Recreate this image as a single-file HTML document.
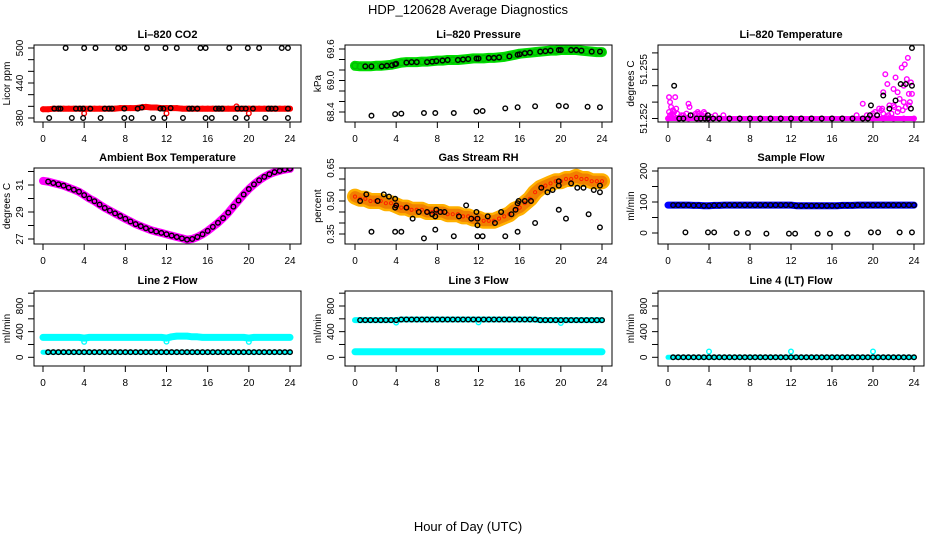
<!DOCTYPE html>
<html><head><meta charset="utf-8">
<style>
html,body{margin:0;padding:0;background:#fff;}
svg{display:block;font-family:"Liberation Sans",sans-serif;}
</style></head>
<body>
<svg id="chart" width="936" height="540" viewBox="0 0 936 540" xmlns="http://www.w3.org/2000/svg">
<text x="468" y="14" text-anchor="middle" font-size="13">HDP_120628  Average Diagnostics</text>
<text x="468" y="531" text-anchor="middle" font-size="13">Hour of Day (UTC)</text>
</svg>
<script>
const hoursHalf = [0,0.5,1,1.5,2,2.5,3,3.5,4,4.5,5,5.5,6,6.5,7,7.5,8,8.5,9,9.5,10,10.5,11,11.5,12,12.5,13,13.5,14,14.5,15,15.5,16,16.5,17,17.5,18,18.5,19,19.5,20,20.5,21,21.5,22,22.5,23,23.5,24];
const xTickLabels = [0,4,8,12,16,20,24];

// CO2
const co2Band = [395,395,396,396,396,396,396,396,396,396,396,396,396,396,396,397,397,397,397,398,399,398,398,397,397,397,397,396,396,396,396,396,396,396,396,396,396,396,396,396,396,396,396,396,396,396,396,396,396];
const co2HighHours = [2.2,4,5.1,7.3,7.9,10.1,11.9,13,15.3,15.8,18.1,19.9,21,23.2,23.8];
const co2HighVals = [500,500,500,500,500,500,500,500,500,500,500,500,500,500,500];
const co2LowHours = [0.6,2.8,3.9,5.6,7.9,8.6,10.7,11.8,13.6,15.8,16.4,18.7,19.8,21.6,23.8];
const co2LowVals = [380,380,380,380,380,380,380,380,380,380,380,380,380,380,380];
const co2MidHours = [1.1,1.5,1.7,3.2,3.6,3.9,4.6,6.0,6.4,6.7,7.9,9.2,9.6,11.4,11.7,12.4,14.2,14.5,15.0,16.8,17.1,17.4,18.9,19.3,19.7,20.4,21.9,22.2,22.6,23.8];
const co2MidVals = [396,396,396,396,396,396,396,396,396,396,396,396,398,396,396,397,396,396,396,396,396,396,396,396,396,396,396,396,396,396];
const co2RedOutHours = [4,12,20,9.7,18.8];
const co2RedOutVals = [388,388,388,399,400];

// Pressure
const presBand = [69.28,69.27,69.27,69.27,69.28,69.28,69.29,69.30,69.32,69.34,69.35,69.35,69.35,69.36,69.36,69.37,69.38,69.38,69.39,69.39,69.39,69.40,69.41,69.42,69.42,69.42,69.43,69.43,69.44,69.45,69.47,69.49,69.51,69.52,69.53,69.54,69.55,69.56,69.57,69.57,69.58,69.58,69.58,69.58,69.57,69.56,69.55,69.54,69.54];
const presBlkHours = [1.0,1.6,2.6,3.1,3.6,3.9,4.0,5.0,5.5,6.0,7.0,7.5,7.9,8.5,9.0,10.0,10.5,11.0,11.8,12.0,13.0,13.5,14.0,15.0,15.8,16.0,16.5,17.0,18.0,18.5,19.0,19.8,20.0,21.0,21.5,22.0,23.0,23.8];
const presBlkVals = [69.27,69.27,69.27,69.28,69.29,69.31,69.32,69.34,69.35,69.35,69.35,69.36,69.37,69.38,69.39,69.39,69.40,69.41,69.42,69.42,69.43,69.43,69.44,69.46,69.49,69.50,69.52,69.53,69.55,69.56,69.57,69.58,69.58,69.58,69.58,69.57,69.55,69.55];
const presLowHours = [1.6,3.9,4.5,6.7,7.8,9.6,11.8,12.4,14.6,15.8,17.5,19.8,20.5,22.6,23.8];
const presLowVals = [68.33,68.36,68.37,68.38,68.38,68.38,68.41,68.42,68.47,68.49,68.51,68.52,68.51,68.50,68.49];

// Li-820 temperature
const tmpMagHours = [0,1,2,3,4,5,6,7,8,9,10,11,12,13,14,15,16,17,18,19,20,21,22,23,24,0.1,0.2,0.3,0.4,0.5,0.6,0.8,1.2,1.5,1.8,2.0,2.1,2.4,2.7,3.0,3.3,3.6,4.2,4.6,5.4,0.7,0.1,0.2,18.4,19.0,19.4,20.2,20.6,20.8,21.0,21.2,21.4,21.6,21.8,22.0,22.2,22.4,22.6,22.8,23.0,23.1,23.3,23.4,23.5,23.6,23.7,22.5,21.3,22.0,23.0,23.8,21.0,22.4,23.2,20.4,0.3,0.5,0.9,1.3,2.9,3.1,3.5,20.0,20.9,21.5,22.1,22.9,23.5];
const tmpMagVals = [51.2520,51.2520,51.2520,51.2520,51.2520,51.2520,51.2520,51.2520,51.2520,51.2520,51.2520,51.2520,51.2520,51.2520,51.2520,51.2520,51.2520,51.2520,51.2520,51.2520,51.2520,51.2520,51.2520,51.2520,51.2520,51.2524,51.2522,51.2521,51.2523,51.2522,51.2524,51.2526,51.2521,51.2522,51.2523,51.2529,51.2527,51.2522,51.2523,51.2523,51.2522,51.2523,51.2521,51.2522,51.2522,51.2533,51.2533,51.2530,51.2522,51.2529,51.2522,51.2524,51.2526,51.2525,51.2536,51.2547,51.2541,51.2528,51.2523,51.2538,51.2545,51.2536,51.2532,51.2551,51.2540,51.2553,51.2544,51.2557,51.2535,51.2530,51.2542,51.2526,51.2521,51.2528,51.2530,51.2535,51.2523,51.2524,51.2527,51.2522,51.2527,51.2525,51.2523,51.2522,51.2524,51.2522,51.2524,51.2523,51.2526,51.2522,51.2527,51.2525,51.2528];
const tmpBlkHours = [1.1,1.5,2.2,2.8,3.2,3.6,3.9,4.4,5,6,7,8,9,10,11,12,13,14,15,16,17,18,19,19.5,0.6,3.9,19.8,19.7,20.4,21.0,21.6,22.2,22.7,23.2,23.8,23.8,23.7];
const tmpBlkVals = [51.2520,51.2520,51.2522,51.2520,51.2520,51.2520,51.2520,51.2520,51.2520,51.2520,51.2520,51.2520,51.2520,51.2520,51.2520,51.2520,51.2520,51.2520,51.2520,51.2520,51.2520,51.2520,51.2520,51.2520,51.2540,51.2522,51.2528,51.2522,51.2522,51.2534,51.2526,51.2531,51.2541,51.2541,51.2563,51.2540,51.2526];

// Ambient box temperature
const ambVals = [31.3,31.25,31.15,31.05,30.95,30.8,30.65,30.5,30.25,30.0,29.8,29.55,29.3,29.1,28.9,28.7,28.5,28.3,28.1,27.95,27.8,27.65,27.55,27.45,27.35,27.25,27.15,27.05,26.95,27.0,27.15,27.35,27.6,27.9,28.2,28.55,28.95,29.4,29.85,30.3,30.7,31.05,31.35,31.6,31.8,31.95,32.05,32.15,32.2];

// Gas stream RH
const rhBand = [0.52,0.51,0.51,0.50,0.50,0.50,0.49,0.49,0.48,0.47,0.47,0.46,0.46,0.46,0.45,0.45,0.45,0.45,0.44,0.44,0.44,0.43,0.43,0.42,0.42,0.41,0.41,0.41,0.42,0.43,0.44,0.46,0.47,0.49,0.51,0.54,0.56,0.57,0.58,0.59,0.59,0.60,0.60,0.61,0.60,0.60,0.59,0.59,0.59];
const rhBlkHours = [0.5,1.1,1.6,2.2,2.8,3.3,3.9,3.9,4.0,4.5,3.9,5.0,5.6,6.2,6.7,7.0,7.5,7.8,7.9,7.8,8.3,8.7,9.6,10.1,10.8,11.3,11.8,11.9,11.9,11.9,12.4,12.9,13.6,14.2,14.6,15.2,15.6,15.8,15.8,15.9,16.5,17.1,17.5,18.1,18.7,19.2,19.8,19.8,19.8,20.5,21.0,21.6,22.2,22.7,23.2,23.8,23.8,23.8];
const rhBlkVals = [0.50,0.53,0.36,0.50,0.53,0.52,0.51,0.47,0.48,0.36,0.36,0.47,0.42,0.45,0.33,0.45,0.44,0.43,0.46,0.37,0.45,0.45,0.34,0.43,0.48,0.42,0.45,0.42,0.39,0.34,0.34,0.43,0.40,0.45,0.34,0.44,0.46,0.49,0.36,0.50,0.50,0.50,0.40,0.56,0.54,0.55,0.57,0.59,0.46,0.42,0.58,0.56,0.56,0.44,0.55,0.54,0.57,0.38];

// Sample flow
const sfBand = [90,90,90,90,90,89,89,88,88,89,89,90,90,90,90,90,90,90,90,90,90,90,90,90,90,88,88,88,88,88,88,88,88,88,89,89,89,90,90,90,90,90,90,90,90,90,90,90,90];
const sfZeroHours = [1.7,3.9,4.5,6.7,7.8,9.6,11.8,12.4,14.6,15.8,17.5,19.8,20.5,22.6,23.8];
const sfZeroVals = [2,2,2,0,0,-2,-2,-2,-2,-2,-2,2,2,2,2];

// Line flows
const l2Top = [310,310,310,310,310,310,310,310,300,310,310,310,310,310,310,310,310,310,310,310,310,310,310,310,300,320,330,330,330,320,320,310,310,310,310,310,310,310,310,310,300,310,310,310,310,310,310,310,310];
const l2DipHours = [4,12,20];
const l2DipVals = [240,245,240];
const l2Low = [80,80,80,80,80,80,80,80,80,80,80,80,80,80,80,80,80,80,80,80,80,80,80,80,80,80,80,80,80,80,80,80,80,80,80,80,80,80,80,80,80,80,80,80,80,80,80,80,80];
const l3Top = [580,580,580,580,580,580,580,580,580,590,590,590,590,590,590,590,590,590,590,590,590,590,590,590,590,590,590,590,590,590,590,590,590,590,590,590,580,580,580,580,580,580,580,580,580,580,580,580,580];
const l3DipHours = [4,12,20];
const l3DipVals = [540,545,535];
const l3Low = [85,85,85,85,85,85,85,85,85,85,85,85,85,85,85,85,85,85,85,85,85,85,85,85,85,85,85,85,85,85,85,85,85,85,85,85,85,85,85,85,85,85,85,85,85,85,85,85,85];
const l4Vals = [0,0,0,0,0,0,0,0,0,0,0,0,0,0,0,0,0,0,0,0,0,0,0,0,0,0,0,0,0,0,0,0,0,0,0,0,0,0,0,0,0,0,0,0,0,0,0,0,0];
const l4SpikeHours = [4,12,20];
const l4SpikeVals = [90,90,90];

const NS = "http://www.w3.org/2000/svg";
const svg = document.getElementById('chart');
function mk(tag, attrs, parent) {
  const e = document.createElementNS(NS, tag);
  for (const k in attrs) e.setAttribute(k, attrs[k]);
  (parent || svg).appendChild(e);
  return e;
}
const cols = [{l:34,r:301,x0:43,x1:290},{l:345,r:612,x0:355,x1:602},{l:658,r:924,x0:668,x1:914}];
const rows = [{t:45,b:122},{t:168,b:244},{t:291,b:366}];

function panel(name, ci, ri, title, ytitle, v0, p0, v1, p1, yticks, ylabels) {
  const c = cols[ci], r = rows[ri];
  const g = mk('g', {});
  
  
  const sx = h => c.x0 + (c.x1 - c.x0) * h / 24;
  const sy = v => p0 + (p1 - p0) * (v - v0) / (v1 - v0);
  const clip = mk('clipPath', {id: 'clip-' + name}, g);
  mk('rect', {x: c.l, y: r.t, width: c.r - c.l, height: r.b - r.t}, clip);
  const plot = mk('g', {'clip-path': 'url(#clip-' + name + ')'}, g);
  
  
  const box = mk('rect', {x: c.l, y: r.t, width: c.r - c.l, height: r.b - r.t, fill: 'none', stroke: '#000', 'stroke-width': 1}, g);
  
  
  const t = mk('text', {x: (c.l + c.r) / 2, y: r.t - 7, 'text-anchor': 'middle', 'font-size': 11, 'font-weight': 'bold'}, g);
  t.textContent = title;
  
  
  const xa = mk('g', {}, g);
  
  
  mk('line', {x1: sx(0), x2: sx(24), y1: r.b, y2: r.b, stroke: '#000'}, xa);
  xTickLabels.forEach(h => {
    mk('line', {x1: sx(h), x2: sx(h), y1: r.b, y2: r.b + 6, stroke: '#000'}, xa);
    const tl = mk('text', {x: sx(h), y: r.b + 20, 'text-anchor': 'middle', 'font-size': 10}, xa);
    tl.textContent = h;
    
    
  });
  const ya = mk('g', {}, g);
  
  
  mk('line', {x1: c.l, x2: c.l, y1: sy(yticks[0]), y2: sy(yticks[yticks.length - 1]), stroke: '#000'}, ya);
  yticks.forEach(v => mk('line', {x1: c.l - 6, x2: c.l, y1: sy(v), y2: sy(v), stroke: '#000'}, ya));
  ylabels.forEach(lb => {
    const yy = sy(lb[0]);
    const tl = mk('text', {x: c.l - 11, y: yy, 'text-anchor': 'middle', 'font-size': 10, transform: 'rotate(-90 ' + (c.l - 11) + ' ' + yy + ')'}, ya);
    tl.textContent = lb[1];
    
    
  });
  const ym = (r.t + r.b) / 2;
  const yt = mk('text', {x: c.l - 24, y: ym, 'text-anchor': 'middle', 'font-size': 10, transform: 'rotate(-90 ' + (c.l - 24) + ' ' + ym + ')'}, g);
  yt.textContent = ytitle;
  
  
  return {sx, sy, plot};
}
function band(P, hs, vs, color, w, nm) {
  const pts = hs.map((h, i) => P.sx(h).toFixed(1) + ',' + P.sy(vs[i]).toFixed(1)).join(' ');
  const pl = mk('polyline', {points: pts, fill: 'none', stroke: color, 'stroke-width': w, 'stroke-linejoin': 'round', 'stroke-linecap': 'round'}, P.plot);
  
  
}
function dots(P, hs, vs, color, nm, rad, sw) {
  hs.forEach((h, i) => {
    const c = mk('circle', {cx: P.sx(h), cy: P.sy(vs[i]), r: rad || 2.3, fill: 'none', stroke: color, 'stroke-width': sw || 1.4}, P.plot);
    
    
  });
}

let P = panel('co2-panel', 0, 0, 'Li\u2013820 CO2', 'Licor ppm', 380, 118, 500, 48, [380,400,420,440,460,480,500], [[380,'380'],[440,'440'],[500,'500']]);
band(P, hoursHalf, co2Band, '#ff0000', 6, 'co2-red-band');
dots(P, hoursHalf, co2Band, '#ff0000', 'co2-red-point');
dots(P, co2RedOutHours, co2RedOutVals, '#ff0000', 'co2-red-outlier');
dots(P, co2HighHours, co2HighVals, '#000', 'co2-black-point');
dots(P, co2LowHours, co2LowVals, '#000', 'co2-black-point');
dots(P, co2MidHours, co2MidVals, '#000', 'co2-black-point');

P = panel('pressure-panel', 1, 0, 'Li\u2013820 Pressure', 'kPa', 68.4, 112, 69.6, 49, [68.4,68.6,68.8,69.0,69.2,69.4,69.6], [[68.4,'68.4'],[69.0,'69.0'],[69.6,'69.6']]);
band(P, hoursHalf, presBand, '#00dd00', 10, 'pressure-green-band');
dots(P, hoursHalf, presBand, '#00bb00', 'pressure-green-point', 3);
dots(P, presBlkHours, presBlkVals, '#000', 'pressure-black-point');
dots(P, presLowHours, presLowVals, '#000', 'pressure-black-point');

P = panel('licor-temp-panel', 2, 0, 'Li\u2013820 Temperature', 'degrees C', 51.252, 118.5, 51.255, 69.3, [51.252,51.253,51.254,51.255,51.256], [[51.252,'51.252'],[51.255,'51.255']]);
band(P, [0,24], [51.252,51.252], '#ff00ff', 5, 'temp-magenta-band');
dots(P, tmpMagHours, tmpMagVals, '#ff00ff', 'temp-magenta-point');
dots(P, tmpBlkHours, tmpBlkVals, '#000', 'temp-black-point');

P = panel('ambient-panel', 0, 1, 'Ambient Box Temperature', 'degrees C', 27, 239, 31, 185, [27,28,29,30,31,32], [[27,'27'],[29,'29'],[31,'31']]);
band(P, hoursHalf, ambVals, '#ff00ff', 8, 'ambient-magenta-band');
dots(P, hoursHalf.slice(1), ambVals.slice(1), '#000', 'ambient-black-point');

P = panel('rh-panel', 1, 1, 'Gas Stream RH', 'percent', 0.35, 234, 0.65, 168, [0.35,0.40,0.45,0.50,0.55,0.60,0.65], [[0.35,'0.35'],[0.50,'0.50'],[0.65,'0.65']]);
band(P, hoursHalf, rhBand, '#ffb000', 16, 'rh-yellow-band');
band(P, hoursHalf, rhBand, '#f08000', 11, 'rh-orange-band');
dots(P, hoursHalf, rhBand, '#ff2000', 'rh-red-point', 1.6, 1);
dots(P, rhBlkHours, rhBlkVals, '#000', 'rh-black-point');

P = panel('sample-flow-panel', 2, 1, 'Sample Flow', 'ml/min', 0, 233, 200, 171, [0,50,100,150,200], [[0,'0'],[100,'100'],[200,'200']]);
band(P, hoursHalf, sfBand, '#0000ff', 7, 'sample-flow-blue-band');
dots(P, hoursHalf.slice(1), sfBand.slice(1), '#000', 'sample-flow-black-point');
dots(P, sfZeroHours, sfZeroVals, '#000', 'sample-flow-black-point');

const fticks = [0,200,400,600,800,1000];
const flabels = [[0,'0'],[400,'400'],[800,'800']];
P = panel('line2-panel', 0, 2, 'Line 2 Flow', 'ml/min', 0, 357.3, 800, 306, fticks, flabels);
band(P, hoursHalf, l2Top, '#00ffff', 7, 'line2-cyan-band');
dots(P, l2DipHours, l2DipVals, '#00ffff', 'line2-cyan-dip');
band(P, hoursHalf, l2Low, '#00ffff', 5, 'line2-cyan-low-band');
dots(P, hoursHalf.slice(1), l2Low.slice(1), '#000', 'line2-black-point');

P = panel('line3-panel', 1, 2, 'Line 3 Flow', 'ml/min', 0, 357.3, 800, 306, fticks, flabels);
band(P, hoursHalf, l3Top, '#00ffff', 6, 'line3-cyan-band');
dots(P, l3DipHours, l3DipVals, '#00ffff', 'line3-cyan-dip');
band(P, hoursHalf, l3Low, '#00ffff', 7, 'line3-cyan-low-band');
dots(P, hoursHalf.slice(1), l3Top.slice(1), '#000', 'line3-black-point');

P = panel('line4-panel', 2, 2, 'Line 4 (LT) Flow', 'ml/min', 0, 357.3, 800, 306, fticks, flabels);
band(P, hoursHalf, l4Vals, '#00ffff', 5, 'line4-cyan-band');
dots(P, l4SpikeHours, l4SpikeVals, '#00ffff', 'line4-cyan-spike');
dots(P, hoursHalf.slice(1), l4Vals.slice(1), '#000', 'line4-black-point');
</script>
</body></html>
